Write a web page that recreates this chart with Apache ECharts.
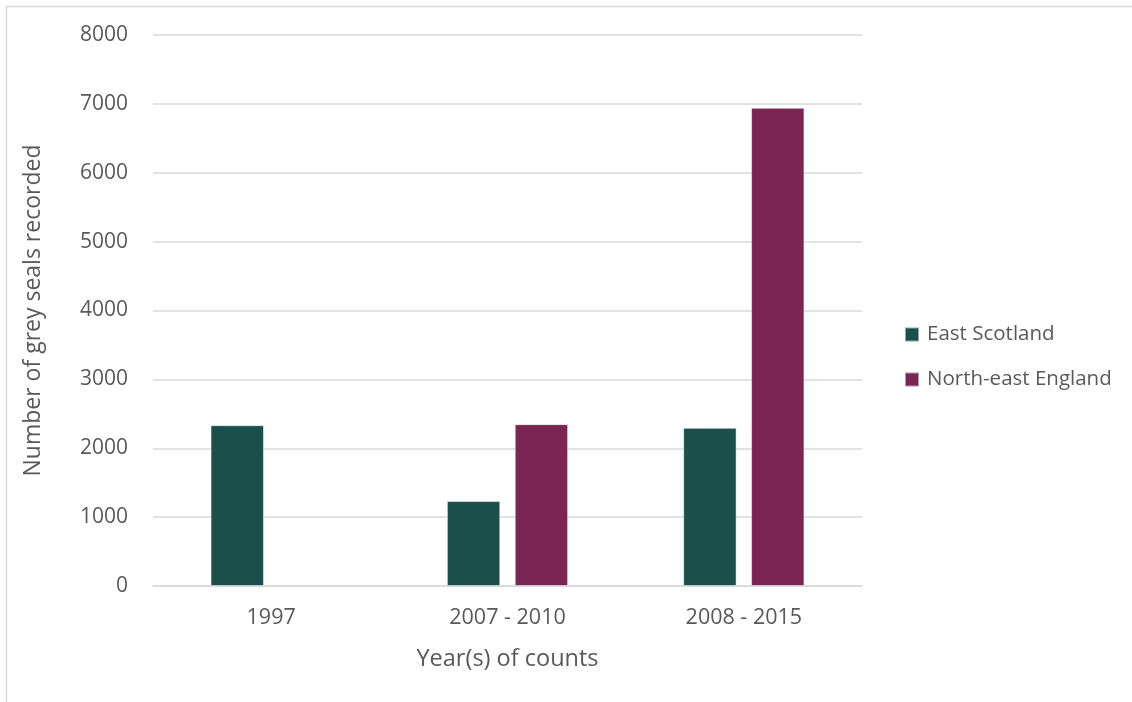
<!DOCTYPE html>
<html>
<head>
<meta charset="utf-8">
<script src="https://cdn.jsdelivr.net/npm/echarts@6/dist/echarts.min.js"></script>
<style>
  html, body { margin: 0; padding: 0; background: #ffffff; }
  #chart { width: 1132px; height: 702px; }
</style>
</head>
<body>
<div id="chart"></div>
<script>
// Grey seal counts by survey period and region
const categories = ['1997', '2007 - 2010', '2008 - 2015'];
const eastScotland = [2335, 1233, 2296];
const northEastEngland = [null, 2350, 6942];
const seriesNames = ['East Scotland', 'North-east England'];

const textColor = '#595959';
const gridColor = '#d9d9d9';
const fontFamily = '"Open Sans", "Noto Sans", sans-serif';

const chart = echarts.init(document.getElementById('chart'));
chart.setOption({
  backgroundColor: '#ffffff',
  animation: false,
  textStyle: { fontFamily: fontFamily, color: textColor },
  graphic: [{
    type: 'rect',
    shape: { x: 6.5, y: 6.5, width: 1140, height: 710 },
    style: { fill: 'none', stroke: '#d9d9d9', lineWidth: 1.5 },
    silent: true
  }],
  grid: { left: 153, right: 270, top: 35, bottom: 116 },
  legend: {
    orient: 'vertical',
    left: 904,
    top: 324,
    padding: 0,
    itemWidth: 14,
    itemHeight: 14,
    itemGap: 24,
    icon: 'rect',
    textStyle: { fontFamily: fontFamily, fontSize: 20.5, color: textColor, padding: [0, 0, 0, 3] },
    data: seriesNames
  },
  xAxis: {
    type: 'category',
    data: categories,
    name: 'Year(s) of counts',
    nameLocation: 'middle',
    nameGap: 61,
    nameTextStyle: { fontFamily: fontFamily, fontSize: 23.5, color: textColor },
    axisLine: { lineStyle: { color: gridColor, width: 1.5 } },
    axisTick: { show: false },
    axisLabel: { fontFamily: fontFamily, fontSize: 21.5, color: textColor, margin: 21 }
  },
  yAxis: {
    type: 'value',
    min: 0,
    max: 8000,
    interval: 1000,
    name: 'Number of grey seals recorded',
    nameLocation: 'middle',
    nameGap: 108,
    nameTextStyle: { fontFamily: fontFamily, fontSize: 23, color: textColor },
    axisLine: { show: false },
    axisTick: { show: false },
    axisLabel: {
      fontFamily: fontFamily, fontSize: 21, color: textColor, margin: 25,
      formatter: function (v) { return String(v); }
    },
    splitLine: { lineStyle: { color: gridColor, width: 1.5 } }
  },
  series: [
    {
      name: seriesNames[0],
      type: 'bar',
      data: eastScotland,
      barWidth: '22.6%',
      barGap: '27%',
      itemStyle: { color: '#1a4f4b', borderColor: 'rgba(255,255,255,0.5)', borderWidth: 1 }
    },
    {
      name: seriesNames[1],
      type: 'bar',
      data: northEastEngland,
      barWidth: '22.6%',
      barGap: '27%',
      itemStyle: { color: '#7b2652', borderColor: 'rgba(255,255,255,0.5)', borderWidth: 1 }
    }
  ]
});
</script>
</body>
</html>
